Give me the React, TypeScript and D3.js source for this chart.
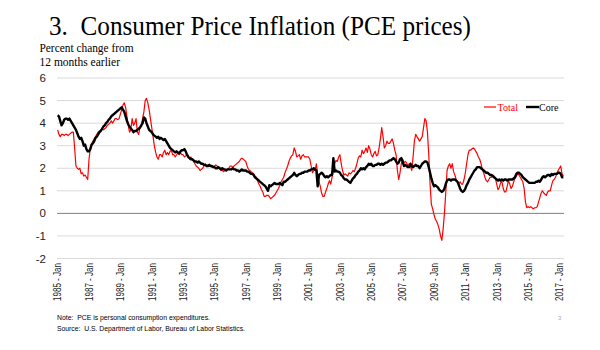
import React from "react";
import { scaleBand, scaleLinear, line } from "d3";

// monthly, Jan 1985 .. Apr 2017, percent change from 12 months earlier
const startYear = 1985;

const totalPce = [
  3.7, 3.5, 3.4, 3.5, 3.5, 3.45, 3.5, 3.5, 3.45, 3.5, 3.55, 3.6, // 1985
  3.6, 2.9, 2.1, 2.0, 1.95, 2.0, 1.75, 1.8, 1.65, 1.7, 1.6, 1.5, // 1986
  2.4, 2.9, 3.1, 3.2, 3.3, 3.4, 3.5, 3.6, 3.65, 3.7, 3.75, 3.7, // 1987
  3.75, 3.8, 3.9, 3.95, 4.0, 4.1, 4.0, 4.1, 4.2, 4.2, 4.15, 4.2, // 1988
  4.4, 4.6, 4.8, 4.9, 4.7, 4.3, 3.9, 3.6, 3.7, 4.2, 3.9, 4.0, // 1989
  4.2, 3.6, 3.5, 3.8, 3.9, 4.2, 4.5, 5.0, 5.1, 4.9, 4.6, 4.2, // 1990
  3.8, 3.4, 3.0, 2.7, 2.5, 2.4, 2.6, 2.6, 2.5, 2.7, 2.8, 2.6, // 1991
  2.7, 2.6, 2.75, 2.8, 2.6, 2.6, 2.5, 2.6, 2.7, 2.6, 2.7, 2.6, // 1992
  2.6, 2.5, 2.55, 2.6, 2.5, 2.4, 2.5, 2.4, 2.3, 2.2, 2.1, 2.05, // 1993
  2.0, 1.9, 1.95, 2.0, 2.1, 2.2, 2.1, 2.15, 2.1, 2.1, 2.05, 2.1, // 1994
  2.1, 2.15, 2.1, 2.05, 2.0, 1.9, 1.9, 1.85, 1.9, 1.95, 1.95, 2.0, // 1995
  2.1, 2.1, 2.05, 2.1, 2.15, 2.2, 2.25, 2.3, 2.4, 2.45, 2.4, 2.35, // 1996
  2.3, 2.1, 1.95, 1.9, 1.85, 1.8, 1.75, 1.65, 1.6, 1.45, 1.3, 1.2, // 1997
  1.05, 0.95, 0.75, 0.75, 0.8, 0.8, 0.75, 0.65, 0.7, 0.75, 0.8, 0.9, // 1998
  1.0, 1.1, 1.25, 1.4, 1.5, 1.6, 1.8, 1.95, 2.1, 2.3, 2.45, 2.55, // 1999
  2.6, 2.9, 2.75, 2.5, 2.55, 2.6, 2.4, 2.55, 2.6, 2.5, 2.5, 2.5, // 2000
  2.5, 2.4, 2.1, 1.8, 1.9, 1.9, 2.2, 1.7, 1.4, 1.2, 0.9, 0.75, // 2001
  0.75, 0.95, 1.1, 1.3, 1.45, 1.3, 1.6, 1.9, 2.2, 2.35, 2.3, 2.5, // 2002
  2.6, 2.2, 1.9, 1.7, 1.75, 1.7, 1.65, 1.8, 1.75, 1.8, 1.9, 1.85, // 2003
  2.0, 2.2, 2.45, 2.55, 2.5, 2.8, 2.65, 2.75, 2.9, 2.7, 3.0, 2.85, // 2004
  2.6, 2.5, 2.65, 2.75, 2.55, 2.6, 2.9, 3.3, 3.8, 3.4, 2.9, 3.0, // 2005
  3.2, 3.1, 3.1, 3.2, 3.3, 3.1, 2.8, 2.6, 1.9, 1.5, 1.8, 2.2, // 2006
  2.4, 2.25, 2.3, 2.25, 2.1, 2.2, 2.1, 1.9, 2.5, 3.2, 3.5, 3.4, // 2007
  3.3, 3.2, 3.3, 3.4, 3.8, 4.2, 4.1, 3.6, 2.6, 1.3, 0.4, 0.2, // 2008
  -0.05, -0.25, -0.35, -0.5, -0.7, -1.0, -1.2, -0.7, 0.0, 0.9, 1.9, 2.1, // 2009
  2.2, 2.0, 2.2, 1.85, 1.7, 1.5, 1.4, 1.3, 1.4, 1.3, 1.3, 1.5, // 2010
  1.8, 2.2, 2.6, 2.8, 2.8, 2.85, 2.9, 2.85, 2.75, 2.65, 2.5, 2.4, // 2011
  2.2, 1.95, 1.8, 1.6, 1.45, 1.4, 1.5, 1.6, 1.6, 1.7, 1.65, 1.55, // 2012
  1.3, 1.05, 1.15, 1.35, 1.4, 1.1, 0.95, 0.95, 1.2, 1.45, 1.3, 1.1, // 2013
  1.2, 1.4, 1.55, 1.65, 1.75, 1.7, 1.6, 1.5, 1.4, 1.1, 0.5, 0.25, // 2014
  0.3, 0.25, 0.3, 0.25, 0.2, 0.25, 0.25, 0.3, 0.5, 0.7, 0.9, 1.0, // 2015
  0.9, 0.85, 0.8, 0.95, 1.0, 1.0, 1.25, 1.45, 1.5, 1.6, 1.75, 1.9, // 2016
  2.0, 2.1, 1.75, 1.65, // 2017
];

const corePce = [
  4.35, 4.3, 4.1, 3.9, 4.0, 4.15, 4.2, 4.2, 4.15, 4.2, 4.1, 4.0, // 1985
  3.9, 3.8, 3.7, 3.55, 3.4, 3.3, 3.35, 3.2, 3.0, 3.05, 2.85, 2.75, // 1986
  2.75, 2.85, 3.05, 3.1, 3.2, 3.35, 3.4, 3.5, 3.6, 3.65, 3.75, 3.85, // 1987
  3.9, 4.0, 4.05, 4.15, 4.2, 4.3, 4.35, 4.4, 4.45, 4.5, 4.55, 4.6, // 1988
  4.65, 4.7, 4.6, 4.5, 4.3, 4.1, 3.95, 3.85, 3.75, 3.7, 3.6, 3.65, // 1989
  3.65, 3.7, 3.75, 3.8, 3.9, 4.0, 4.25, 4.2, 4.0, 3.85, 3.7, 3.65, // 1990
  3.6, 3.5, 3.45, 3.4, 3.35, 3.4, 3.3, 3.35, 3.3, 3.25, 3.3, 3.2, // 1991
  3.1, 3.0, 2.9, 2.85, 2.8, 2.75, 2.7, 2.75, 2.7, 2.65, 2.75, 2.8, // 1992
  2.8, 2.85, 2.75, 2.6, 2.5, 2.45, 2.4, 2.4, 2.35, 2.3, 2.3, 2.25, // 1993
  2.3, 2.25, 2.2, 2.2, 2.15, 2.15, 2.1, 2.1, 2.15, 2.1, 2.1, 2.05, // 1994
  2.05, 2.0, 2.0, 2.05, 2.0, 1.95, 2.0, 1.95, 1.95, 1.9, 1.95, 1.95, // 1995
  1.95, 1.95, 2.0, 1.95, 1.95, 1.9, 1.9, 1.85, 1.9, 1.95, 1.9, 1.9, // 1996
  1.9, 1.85, 1.85, 1.8, 1.75, 1.75, 1.7, 1.6, 1.55, 1.5, 1.45, 1.4, // 1997
  1.35, 1.3, 1.25, 1.2, 1.1, 1.0, 1.25, 1.2, 1.25, 1.3, 1.35, 1.3, // 1998
  1.3, 1.3, 1.35, 1.3, 1.25, 1.4, 1.4, 1.45, 1.5, 1.55, 1.6, 1.65, // 1999
  1.7, 1.8, 1.7, 1.65, 1.7, 1.75, 1.75, 1.8, 1.8, 1.85, 1.85, 1.85, // 2000
  1.9, 1.9, 1.95, 1.95, 2.0, 1.95, 1.9, 1.2, 1.7, 1.75, 1.8, 1.75, // 2001
  1.65, 1.6, 1.65, 1.6, 1.65, 1.7, 1.7, 2.45, 1.85, 1.9, 1.85, 1.85, // 2002
  1.8, 1.7, 1.65, 1.55, 1.5, 1.5, 1.45, 1.4, 1.35, 1.45, 1.55, 1.6, // 2003
  1.7, 1.75, 1.85, 1.9, 2.0, 1.95, 2.0, 1.95, 2.05, 2.1, 2.2, 2.15, // 2004
  2.2, 2.1, 2.1, 2.15, 2.15, 2.2, 2.2, 2.15, 2.2, 2.15, 2.2, 2.25, // 2005
  2.25, 2.3, 2.35, 2.35, 2.4, 2.45, 2.4, 2.3, 2.2, 2.25, 2.4, 2.45, // 2006
  2.3, 2.1, 2.15, 2.1, 2.05, 2.05, 2.2, 2.1, 2.05, 2.1, 2.15, 2.1, // 2007
  2.1, 2.0, 2.1, 2.2, 2.25, 2.3, 2.3, 2.25, 2.05, 1.8, 1.55, 1.35, // 2008
  1.2, 1.25, 1.2, 1.15, 1.05, 1.0, 0.95, 1.0, 1.1, 1.3, 1.45, 1.5, // 2009
  1.5, 1.45, 1.5, 1.5, 1.5, 1.45, 1.4, 1.25, 1.1, 1.0, 0.95, 1.0, // 2010
  1.1, 1.25, 1.35, 1.5, 1.6, 1.7, 1.8, 1.9, 1.95, 2.05, 2.05, 2.05, // 2011
  2.0, 1.95, 1.9, 1.85, 1.8, 1.8, 1.75, 1.7, 1.7, 1.65, 1.6, 1.55, // 2012
  1.5, 1.45, 1.5, 1.45, 1.5, 1.45, 1.5, 1.5, 1.45, 1.5, 1.5, 1.5, // 2013
  1.5, 1.55, 1.6, 1.75, 1.8, 1.8, 1.75, 1.7, 1.6, 1.55, 1.5, 1.45, // 2014
  1.4, 1.35, 1.35, 1.35, 1.35, 1.35, 1.4, 1.4, 1.45, 1.4, 1.5, 1.6, // 2015
  1.65, 1.6, 1.65, 1.7, 1.7, 1.65, 1.75, 1.7, 1.75, 1.75, 1.75, 1.8, // 2016
  1.8, 1.75, 1.6, 1.6, // 2017
];

const yTicks = [-2, -1, 0, 1, 2, 3, 4, 5, 6];
const labelEvery = 24; // a label every two years, at January

const W = 600;
const H = 350;
const plot = { left: 57, right: 564, top: 78, bottom: 258.5 };

const months = totalPce.map((_, i) => i);
const monthLabel = (i: number) =>
  `${startYear + Math.floor(i / 12)} - Jan`;

export default function App() {
  const x = scaleBand<number>()
    .domain(months)
    .range([plot.left, plot.right]);
  const cx = (i: number) => (x(i) ?? 0) + x.bandwidth() / 2;
  const y = scaleLinear().domain([-2, 6]).range([plot.bottom, plot.top]);

  const path = line<number>()
    .x((_, i) => cx(i))
    .y((d) => y(d));

  const tickIdx = months.filter((i) => i % labelEvery === 0);
  const sans = "'Liberation Sans', Arial, sans-serif";
  const serif = "'Liberation Serif', 'Times New Roman', serif";

  return (
    <svg
      width={W}
      height={H}
      style={{ position: "absolute", left: 0, top: 0, background: "#fff" }}
    >
      <text x={49} y={35} fontFamily={serif} fontSize={27} textLength={422}
        lengthAdjust="spacingAndGlyphs" style={{ whiteSpace: "pre" }}>
        3.  Consumer Price Inflation (PCE prices)
      </text>
      <text x={39.5} y={52} fontFamily={serif} fontSize={11.5} textLength={94}
        lengthAdjust="spacingAndGlyphs">
        Percent change from
      </text>
      <text x={39.5} y={65.5} fontFamily={serif} fontSize={11.5}>
        12 months earlier
      </text>

      {yTicks.map((t) => (
        <g key={t}>
          <line x1={plot.left} x2={plot.right} y1={y(t)} y2={y(t)}
            stroke={t === 0 ? "#7f7f7f" : "#d9d9d9"} strokeWidth={1} />
          <text x={46} y={y(t)} dy="0.35em" textAnchor="end"
            fontFamily={sans} fontSize={11.5} fill="#222">
            {t}
          </text>
        </g>
      ))}

      {tickIdx.map((i) => (
        <text key={i} transform={`translate(${cx(i) + 3.8},263) rotate(-90)`}
          textAnchor="end" fontFamily={sans} fontSize={11} fill="#1a1a1a"
          textLength={38} lengthAdjust="spacingAndGlyphs">
          {monthLabel(i)}
        </text>
      ))}

      <path d={path(totalPce) ?? ""} fill="none" stroke="#ff0000"
        strokeWidth={1.2} strokeLinejoin="round" />
      <path d={path(corePce) ?? ""} fill="none" stroke="#000"
        strokeWidth={2.4} strokeLinejoin="round" />

      <line x1={484} x2={496} y1={107} y2={107} stroke="#ff0000" strokeWidth={1.2} />
      <text x={497.5} y={110.5} fontFamily={serif} fontSize={10} fill="#ff0000">Total</text>
      <line x1={526} x2={539} y1={107} y2={107} stroke="#000" strokeWidth={2.4} />
      <text x={539} y={110.5} fontFamily={serif} fontSize={10}>Core</text>

      <text x={57} y={320} fontFamily={sans} fontSize={8} textLength={153}
        lengthAdjust="spacingAndGlyphs" style={{ whiteSpace: "pre" }}>
        Note:  PCE is personal consumption expenditures.
      </text>
      <text x={57} y={331} fontFamily={sans} fontSize={8} textLength={188}
        lengthAdjust="spacingAndGlyphs" style={{ whiteSpace: "pre" }}>
        Source:  U.S. Department of Labor, Bureau of Labor Statistics.
      </text>
      <text x={558} y={320} fontFamily={sans} fontSize={6} fill="#aaa">3</text>
    </svg>
  );
}
